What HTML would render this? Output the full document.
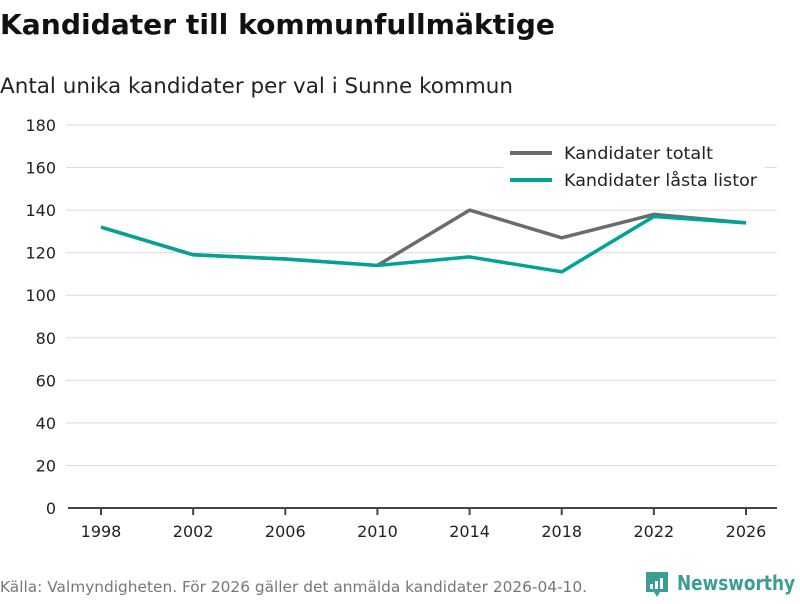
<!DOCTYPE html>
<html><head><meta charset="utf-8"><style>
body{margin:0;background:#fff;width:800px;height:600px;overflow:hidden;font-family:"DejaVu Sans","Liberation Sans",sans-serif}
</style></head><body>
<svg width="800" height="600" style="font-family:'DejaVu Sans','Liberation Sans',sans-serif">
<text x="0" y="34" font-size="28" font-weight="bold" fill="#111" textLength="555" lengthAdjust="spacingAndGlyphs">Kandidater till kommunfullmäktige</text>
<text x="0" y="93" font-size="21" fill="#222" textLength="513" lengthAdjust="spacingAndGlyphs">Antal unika kandidater per val i Sunne kommun</text>
<g id="grid"></g>
<g id="ylab"></g>
<g id="xax"></g>
<g id="lines"></g>
<g>
<rect x="503" y="138" width="262" height="60" fill="#fff"/>
<line x1="510" y1="153" x2="552" y2="153" stroke="#6b6a6f" stroke-width="4"/>
<text x="564" y="159" font-size="17" fill="#222" textLength="149" lengthAdjust="spacingAndGlyphs">Kandidater totalt</text>
<line x1="510" y1="180" x2="552" y2="180" stroke="#00a395" stroke-width="4"/>
<text x="564" y="186" font-size="17" fill="#222" textLength="193" lengthAdjust="spacingAndGlyphs">Kandidater låsta listor</text>
</g>
<text x="0" y="592" font-size="15" fill="#777" textLength="587" lengthAdjust="spacingAndGlyphs">Källa: Valmyndigheten. För 2026 gäller det anmälda kandidater 2026-04-10.</text>
<g>
<path d="M646 572h22v20h-8l-3 5-3-5h-8z" fill="#3a9e94"/>
<rect x="650" y="584" width="3" height="5" fill="#fff"/><rect x="655" y="581" width="3" height="8" fill="#fff"/><rect x="660" y="578" width="3" height="11" fill="#fff"/>
<text x="677" y="590" font-size="20" font-weight="bold" fill="#3a9e94" textLength="118" lengthAdjust="spacingAndGlyphs">Newsworthy</text>
</g>
</svg>
<script>
const years=[1998,2002,2006,2010,2014,2018,2022,2026];
const totalt=[132,119,117,114,140,127,138,134];
const lasta=[132,119,117,114,118,111,137,134];
const yTicks=[0,20,40,60,80,100,120,140,160,180];
const NS="http://www.w3.org/2000/svg";
const xs=y=>101+(y-1998)/28*645;
const ys=v=>508-v*(383/180);
function mk(t,a,p){const e=document.createElementNS(NS,t);for(const k in a)e.setAttribute(k,a[k]);p.appendChild(e);return e;}
const grid=document.getElementById('grid'),yl=document.getElementById('ylab'),xa=document.getElementById('xax'),ln=document.getElementById('lines');
yTicks.forEach(v=>{
 if(v>0){const g=mk('line',{x1:66,x2:777,y1:ys(v),y2:ys(v),stroke:'#dcdcdc','stroke-width':1},grid);
 
 }
 const t=mk('text',{x:56,y:ys(v)+6,'font-size':16,fill:'#222','text-anchor':'end'},yl);t.textContent=v;
 
 
});
const ax=mk('line',{x1:68,x2:777,y1:508,y2:508,stroke:'#444','stroke-width':2},xa);


years.forEach(y=>{
 mk('line',{x1:xs(y),x2:xs(y),y1:508,y2:515,stroke:'#444','stroke-width':2},xa);
 const t=mk('text',{x:xs(y),y:537,'font-size':16,fill:'#222','text-anchor':'middle'},xa);t.textContent=y;
 
 
});
function line(vals,col,name){
 const p=mk('polyline',{points:vals.map((v,i)=>xs(years[i])+','+ys(v)).join(' '),fill:'none',stroke:col,'stroke-width':3.5,'stroke-linejoin':'round'},ln);
 
 
}
line(totalt,'#6b6a6f','line-kandidater-totalt');
line(lasta,'#00a395','line-kandidater-lasta');
</script>
</body></html>
